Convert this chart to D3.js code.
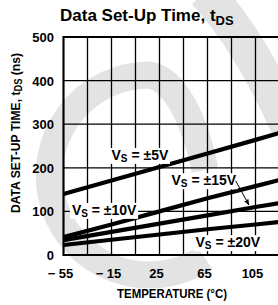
<!DOCTYPE html>
<html>
<head>
<meta charset="utf-8">
<script src="https://cdn.jsdelivr.net/npm/d3@7"></script>
<style>
  body { margin: 0; background: #fff; }
  svg { display: block; }
</style>
</head>
<body>
<svg id="chart" width="278" height="305"></svg>
<script>
// data
var temps = [-55, -15, 25, 65, 105, 125];
var vs5  = [140, 171, 202, 233, 264, 280];
var vs10 = [41, 70, 100, 130, 158, 172];
var vs15 = [34, 53, 72, 91, 110, 119];
var vs20 = [23, 35, 47, 59, 70, 76];

var xTicks = [-55, -15, 25, 65, 105];
var xTickText = ["\u2212 55", "\u2212 15", "25", "65", "105"];
var yTicks = [0, 100, 200, 300, 400, 500];

// label anchors in data units [temp, ns]
var labels = [
  { v: "\u00b15V",  t: -15, ns: 218 },
  { v: "\u00b110V", t: -48, ns: 92 },
  { v: "\u00b115V", t: 35,  ns: 160 },
  { v: "\u00b120V", t: 55,  ns: 18 }
];

var svg = d3.select("#chart");
var narrow = "'Liberation Sans Narrow', 'Arial Narrow', sans-serif";

var x = d3.scaleLinear().domain([-55, 125]).range([63.5, 279.5]);
var y = d3.scaleLinear().domain([0, 500]).range([255, 37]);

// *********** WATERMARK ***************** //
var wm = svg.append("g").attr("fill", "none").attr("stroke", "#e3e3e3");
wm.append("path")
  .attr("d", "M 205 258 A 100 100 0 1 1 150 75 C 175 80 195 120 205 170")
  .attr("stroke-width", 27);
wm.append("path")
  .attr("d", "M 205 -8 Q 250 40 290 130")
  .attr("stroke-width", 36);

// *********** GRID ***************** //
var grid = svg.append("g").attr("stroke", "#000").attr("stroke-width", 1.3);
grid.selectAll(".vg").data(d3.range(-55, 126, 20)).enter().append("line")
  .attr("x1", d => x(d)).attr("x2", d => x(d))
  .attr("y1", y(0)).attr("y2", y(500));
grid.selectAll(".hg").data(yTicks).enter().append("line")
  .attr("x1", x(-55)).attr("x2", x(125))
  .attr("y1", d => y(d)).attr("y2", d => y(d));

svg.append("rect")
  .attr("x", x(-55)).attr("y", y(500))
  .attr("width", x(125) - x(-55)).attr("height", y(0) - y(500))
  .attr("fill", "none").attr("stroke", "#000").attr("stroke-width", 2);

// *********** CURVES ***************** //
var line = d3.line().x((d, i) => x(temps[i])).y(d => y(d));
[vs5, vs10, vs15, vs20].forEach(function (s) {
  svg.append("path")
    .attr("d", line(s))
    .attr("fill", "none")
    .attr("stroke", "#000")
    .attr("stroke-width", 4.2);
});

// *********** LABELS ***************** //
labels.forEach(function (l) {
  var g = svg.append("g");
  var bg = g.append("rect").attr("fill", "#fff");
  var t = g.append("text")
    .attr("x", x(l.t)).attr("y", y(l.ns))
    .style("font-family", narrow)
    .style("font-weight", "bold")
    .style("font-size", "14px");
  t.append("tspan").text("V");
  t.append("tspan").attr("dy", 2).style("font-size", "10px").text("S");
  t.append("tspan").attr("dy", -2).text(" = " + l.v);
  var b = t.node().getBBox();
  bg.attr("x", b.x - 2).attr("y", b.y + 1)
    .attr("width", b.width + 3).attr("height", b.height - 1);
});

// arrow for the 15V curve
svg.append("defs").append("marker")
  .attr("id", "ah").attr("viewBox", "0 0 10 10")
  .attr("refX", 9).attr("refY", 5)
  .attr("markerWidth", 6).attr("markerHeight", 6)
  .attr("orient", "auto")
  .append("path").attr("d", "M0,1 L10,5 L0,9 z").attr("fill", "#000");
svg.append("line")
  .attr("x1", x(88.5)).attr("y1", y(170))
  .attr("x2", x(99.5)).attr("y2", y(115))
  .attr("stroke", "#000").attr("stroke-width", 1)
  .attr("marker-end", "url(#ah)");

// *********** AXES TEXT ***************** //
svg.selectAll(".yt").data(yTicks).enter().append("text")
  .attr("x", 54).attr("y", d => y(d) + 5)
  .attr("text-anchor", "end")
  .style("font-family", narrow).style("font-weight", "bold").style("font-size", "13px")
  .text(d => d);

svg.selectAll(".xt").data(xTicks).enter().append("text")
  .attr("x", d => x(d) - 3).attr("y", 278)
  .attr("text-anchor", "middle")
  .style("font-family", narrow).style("font-weight", "bold").style("font-size", "13px")
  .text((d, i) => xTickText[i]);

svg.append("text")
  .attr("x", 172).attr("y", 298)
  .attr("text-anchor", "middle")
  .attr("textLength", 110).attr("lengthAdjust", "spacingAndGlyphs")
  .style("font-family", narrow).style("font-weight", "bold").style("font-size", "13px")
  .text("TEMPERATURE (\u00b0C)");

var yt = svg.append("text")
  .attr("transform", "translate(20,133) rotate(-90)")
  .attr("text-anchor", "middle")
  .attr("textLength", 160).attr("lengthAdjust", "spacingAndGlyphs")
  .style("font-family", narrow).style("font-weight", "bold").style("font-size", "13px");
yt.append("tspan").text("DATA SET-UP TIME, t");
yt.append("tspan").attr("dy", 2).style("font-size", "10px").text("DS");
yt.append("tspan").attr("dy", -2).text(" (ns)");

var title = svg.append("text")
  .attr("x", 60).attr("y", 21)
  .style("font-family", "'Liberation Sans', Arial, sans-serif")
  .style("font-weight", "bold")
  .style("font-size", "17px");
title.append("tspan").text("Data Set-Up Time, t");
title.append("tspan").attr("dy", 4).style("font-size", "13px").text("DS");
</script>
</body>
</html>
